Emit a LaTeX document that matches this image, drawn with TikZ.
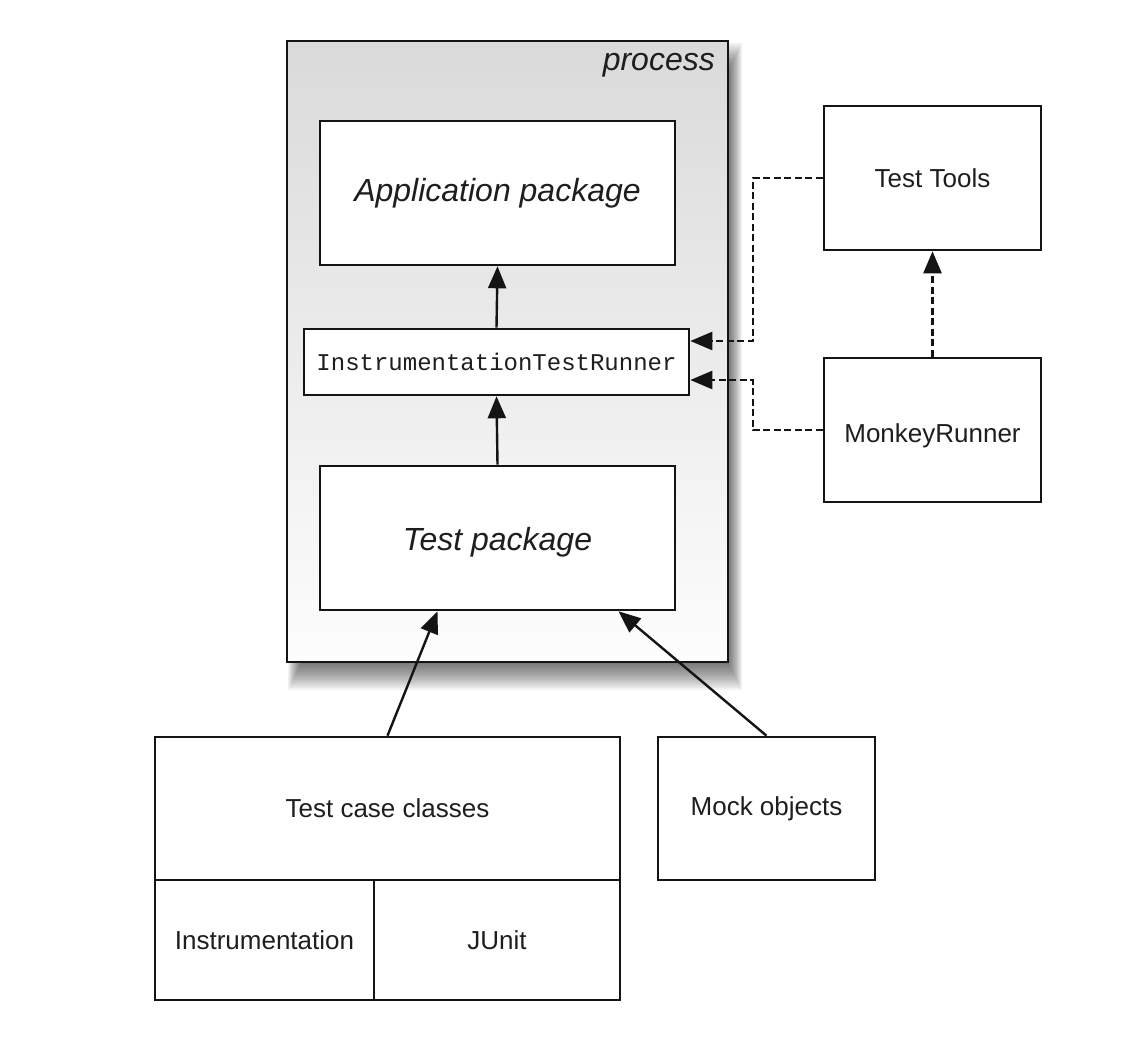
\documentclass[tikz,border=0pt]{standalone}
\usepackage{fontspec}
\setmainfont{Liberation Sans}
\setmonofont{Liberation Mono}
\usetikzlibrary{arrows.meta,calc}
\definecolor{procTop}{RGB}{218,218,218}
\definecolor{procBot}{RGB}{253,253,253}
\definecolor{lineCol}{RGB}{20,20,20}
\definecolor{txtCol}{RGB}{30,30,30}
\tikzset{
  box/.style={draw=lineCol, line width=2.6pt, fill=white, inner sep=0pt, text=txtCol, font=\fontsize{26}{30}\selectfont},
  bigit/.style={font=\fontsize{32}{38}\selectfont\itshape},
  arr/.style={draw=lineCol, line width=2.4pt, -{Triangle[length=22pt,width=18pt]}},
  darr/.style={draw=lineCol, line width=2.4pt, dash pattern=on 7pt off 3.5pt, -{Triangle[length=22pt,width=18pt]}},
}
\begin{document}
\begin{tikzpicture}[x=1pt,y=-1pt]
\useasboundingbox (0,0) rectangle (1142,1044);
% soft shadow of the process box (below and slightly right)
\foreach \i in {1,...,14}{
  \fill[black, opacity=0.05] (287+\i, 41+2*\i) rectangle (728+15-\i, 662+30-2*\i);
}
% process box
\node[draw=lineCol, line width=2.8pt, inner sep=0pt, minimum width=441pt, minimum height=621pt,
      top color=procTop, bottom color=procBot] (proc) at (507.5,351.5) {};
\node[bigit, text=txtCol, anchor=base east, inner sep=0pt] (proclbl) at (715,70) {process};
% inner boxes
\node[box, bigit, minimum width=355pt, minimum height=144pt] (app) at (497.5,193) {Application package};
\node[box, font=\fontsize{24}{28}\selectfont\ttfamily, minimum width=385pt, minimum height=66pt] (itr) at (496.5,362) {InstrumentationTestRunner};
\node[box, bigit, text height=31.5pt, text depth=7pt, minimum width=355pt, minimum height=144pt] (tpk) at (497.5,538) {Test package};
% right tools
\node[box, minimum width=217pt, minimum height=144pt] (tools) at (932.5,178) {Test Tools};
\node[box, text height=30pt, text depth=6pt, minimum width=217pt, minimum height=144pt] (monkey) at (932.5,430) {MonkeyRunner};
% bottom
\node[box, minimum width=465pt, minimum height=143pt] (tcc) at (387.5,808.5) {Test case classes};
\node[box, minimum width=219pt, minimum height=120pt] (instr) at (264.5,940) {Instrumentation};
\node[box, minimum width=246pt, minimum height=120pt] (junit) at (497,940) {JUnit};
\node[box, minimum width=217pt, minimum height=143pt] (mock) at (766.5,808.5) {Mock objects};
% connectors
\draw[arr] (itr.north) -- (app.south);
\draw[arr] (tpk.north) -- (itr.south);
\draw[darr] (tools.west) -- ++(-70,0) |- ([yshift=21pt]itr.east);
\draw[darr] (monkey.west) -- ++(-70,0) |- ([yshift=-18pt]itr.east);
\draw[darr] (monkey.north) -- (tools.south);
\draw[arr] (tcc.north) -- ([xshift=-60pt]tpk.south);
\draw[arr] (mock.north) -- ([xshift=121pt]tpk.south);
\end{tikzpicture}
\end{document}
